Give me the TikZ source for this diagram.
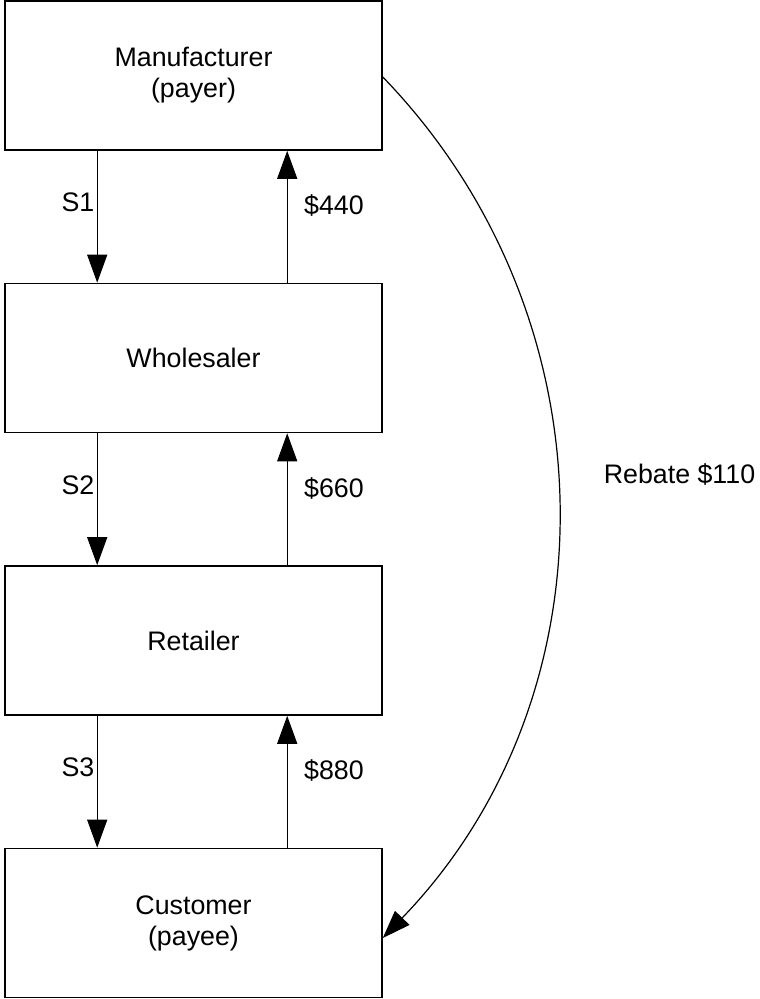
\documentclass[tikz,border=0pt]{standalone}
\usepackage{fontspec}
\setmainfont{Liberation Sans}
\usetikzlibrary{arrows.meta}

\begin{document}
\begin{tikzpicture}[x=0.5pt,y=-0.5pt,
  party/.style={draw,line width=0.8pt,minimum width=188.5pt,minimum height=74.5pt,
    align=center,inner sep=0pt,font=\fontsize{13.4}{15.5}\selectfont},
  flow/.style={line width=0.6pt,-{Triangle[length=14pt,width=10pt]}},
  tag/.style={inner sep=0pt,font=\fontsize{13.4}{15.5}\selectfont}]
\useasboundingbox (0,0) rectangle (759,999);
\node[party] (manu) at (193.5,75.5) {Manufacturer\\(payer)};
\node[party] (whole) at (193.5,358) {Wholesaler};
\node[party] (retail) at (193.5,640.5) {Retailer};
\node[party] (cust) at (193.5,923) {Customer\\(payee)};
\draw[flow] ([xshift=46.5pt]manu.south west) -- ([xshift=46.5pt]whole.north west);
\draw[flow] ([xshift=141.5pt]whole.north west) -- ([xshift=141.5pt]manu.south west);
\draw[flow] ([xshift=46.5pt]whole.south west) -- ([xshift=46.5pt]retail.north west);
\draw[flow] ([xshift=141.5pt]retail.north west) -- ([xshift=141.5pt]whole.south west);
\draw[flow] ([xshift=46.5pt]retail.south west) -- ([xshift=46.5pt]cust.north west);
\draw[flow] ([xshift=141.5pt]cust.north west) -- ([xshift=141.5pt]retail.south west);
\node[tag] (s1) at (78,202) {S1};
\node[tag] (p440) at (334,206) {\$440};
\node[tag] (s2) at (78,485) {S2};
\node[tag] (p660) at (334,489) {\$660};
\node[tag] (s3) at (78,767) {S3};
\node[tag] (p880) at (334,771) {\$880};
\draw[flow] ([yshift=-0.75pt]manu.east) to[bend left=44] ([yshift=-7.5pt]cust.east);
\node[tag] (rebate) at (679.5,475) {Rebate \$110};
\end{tikzpicture}
\end{document}
